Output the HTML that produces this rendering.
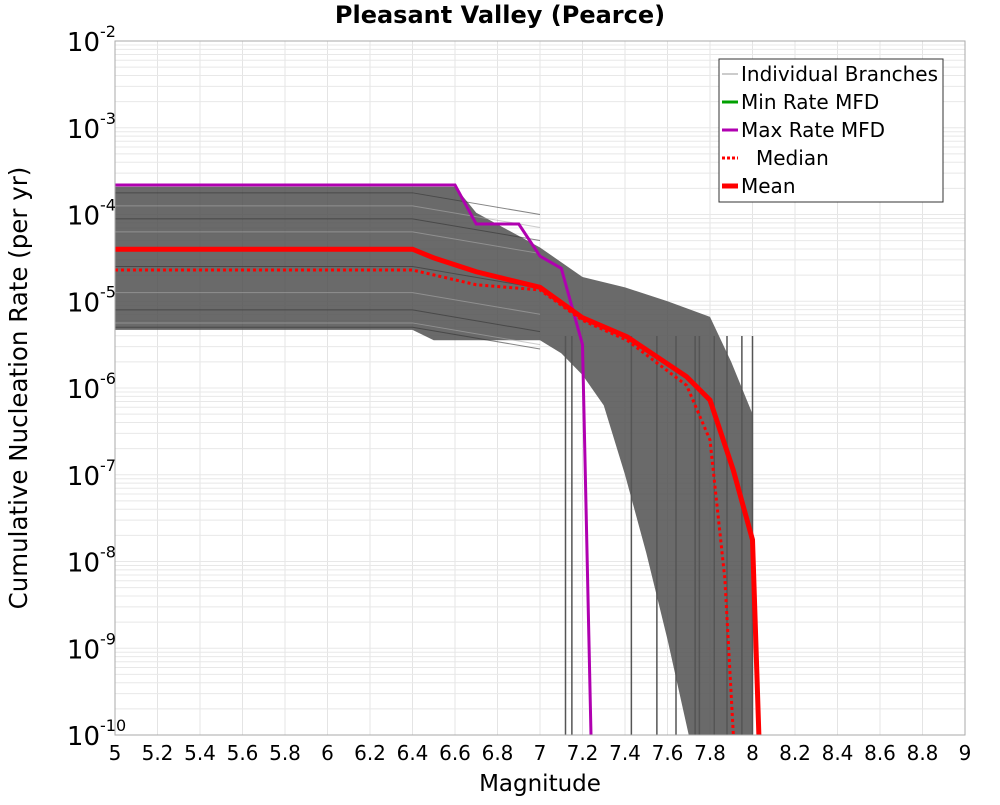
<!DOCTYPE html>
<html><head><meta charset="utf-8"><style>
body{margin:0;background:#fff;font-family:"Liberation Sans","DejaVu Sans",sans-serif}
</style></head><body>
<svg id="chart" width="1000" height="800" xmlns="http://www.w3.org/2000/svg" font-family="DejaVu Sans, Liberation Sans, sans-serif"></svg>
<script>
const xTicks=[5,5.2,5.4,5.6,5.8,6,6.2,6.4,6.6,6.8,7,7.2,7.4,7.6,7.8,8,8.2,8.4,8.6,8.8,9];
const yDecades=[-2,-3,-4,-5,-6,-7,-8,-9,-10];
const meanM=[5,6.4,6.5,6.7,7.0,7.2,7.41,7.69,7.8,7.91,8.0,8.03];
const meanLog=[-4.40,-4.40,-4.50,-4.66,-4.84,-5.19,-5.41,-5.87,-6.14,-6.95,-7.75,-10];
const medM=[5,6.4,6.7,7.0,7.2,7.41,7.69,7.8,7.87,7.91];
const medLog=[-4.64,-4.64,-4.81,-4.87,-5.22,-5.45,-5.97,-6.6,-8.2,-10];
const maxM=[5,6.6,6.7,6.9,7.0,7.1,7.2,7.24];
const maxLog=[-3.66,-3.66,-4.11,-4.11,-4.48,-4.62,-5.5,-10];
const bandUpM=[5,6.6,6.7,7.0,7.2,7.4,7.6,7.8,7.9,8.0,8.0];
const bandUpLog=[-3.68,-3.68,-3.98,-4.38,-4.72,-4.84,-5.0,-5.18,-5.7,-6.3,-10];
const bandLoM=[7.9,7.8,7.7,7.6,7.5,7.4,7.3,7.2,7.1,7.0,6.5,6.4,5];
const bandLoLog=[-10,-10,-10,-8.9,-7.9,-7.0,-6.2,-5.85,-5.6,-5.45,-5.45,-5.33,-5.33];
const branchDrops=[7.12,7.15,7.43,7.55,7.64,7.73,7.75,7.82,7.88,7.95,8.0];
const branchLevels=[-3.75,-3.9,-4.05,-4.2,-4.6,-4.9,-5.1,-5.25,-5.3];
const X0=115,X1=965,Y0=41,Y1=735;
const x=m=>X0+(m-5)/4*(X1-X0);
const y=l=>Y0+(-2-l)/8*(Y1-Y0);
const svg=document.getElementById('chart');
const NS='http://www.w3.org/2000/svg';
function mk(t,a,p){const e=document.createElementNS(NS,t);for(const k in a)e.setAttribute(k,a[k]);(p||svg).appendChild(e);return e;}
const grid=mk('g',{});


xTicks.forEach(t=>mk('line',{x1:x(t),x2:x(t),y1:Y0,y2:Y1,stroke:'#e4e4e4','stroke-width':1},grid));
for(let d=-10;d<-2;d++)for(let k=1;k<10;k++){const l=d+Math.log10(k);mk('line',{x1:X0,x2:X1,y1:y(l),y2:y(l),stroke:'#e8e8e8','stroke-width':1},grid);}
const clip=mk('clipPath',{id:'pc'});mk('rect',{x:X0,y:Y0,width:X1-X0,height:Y1-Y0},clip);
const plot=mk('g',{'clip-path':'url(#pc)'});


const pts=(ms,ls)=>ms.map((m,i)=>x(m)+','+y(ls[i])).join(' ');
const band=mk('polygon',{points:pts(bandUpM,bandUpLog)+' '+pts(bandLoM,bandLoLog),fill:'#505050','fill-opacity':0.85},plot);


branchLevels.forEach((lv,i)=>{const l=mk('polyline',{points:pts([5,6.4,7.0],[lv,lv,lv-0.25]),fill:'none',stroke:i%2?'#aaa':'#333','stroke-width':1,'stroke-opacity':0.6},plot);

});
branchDrops.forEach(d=>{const l=mk('line',{x1:x(d),x2:x(d),y1:y(-5.4),y2:Y1,stroke:'#555','stroke-width':1.5},plot);

});
const mx=mk('polyline',{points:pts(maxM,maxLog),fill:'none',stroke:'#b000b0','stroke-width':3},plot);


const md=mk('polyline',{points:pts(medM,medLog),fill:'none',stroke:'#f00','stroke-width':3,'stroke-dasharray':'3,3'},plot);


const mn=mk('polyline',{points:pts(meanM,meanLog),fill:'none',stroke:'#f00','stroke-width':5},plot);


const fr=mk('rect',{x:X0,y:Y0,width:X1-X0,height:Y1-Y0,fill:'none',stroke:'#aaa'});


xTicks.forEach(t=>{const e=mk('text',{x:x(t),y:760,'font-size':20,'text-anchor':'middle',fill:'#000'});e.textContent=String(t);

});
yDecades.forEach(d=>{const e=mk('text',{x:100,y:y(d)+10,'font-size':26,'text-anchor':'end',fill:'#000'});e.textContent='10';


const s=mk('text',{x:100,y:y(d)-4,'font-size':16,'text-anchor':'start',fill:'#000'});s.textContent=String(d);

});
const tt=mk('text',{x:500,y:23,'font-size':24,'font-weight':'bold','text-anchor':'middle'});tt.textContent='Pleasant Valley (Pearce)';


const xt=mk('text',{x:540,y:791,'font-size':23,'text-anchor':'middle'});xt.textContent='Magnitude';


const yt=mk('text',{x:0,y:0,'font-size':24.5,'text-anchor':'middle',transform:'translate(27,388) rotate(-90)'});yt.textContent='Cumulative Nucleation Rate (per yr)';


const lg=mk('g',{});


mk('rect',{x:719,y:59,width:224,height:143,fill:'#fff',stroke:'#333'},lg);
const entries=[['Individual Branches','#999',1,''],['Min Rate MFD','#00a000',3,''],['Max Rate MFD','#b000b0',3,''],['Median','#f00',3,'3,2'],['Mean','#f00',5,'']];
entries.forEach((en,i)=>{const cy=74+i*28;
mk('line',{x1:722,x2:738,y1:cy,y2:cy,stroke:en[1],'stroke-width':en[2],'stroke-dasharray':en[3]},lg);
const t=mk('text',{x:i==3?756:741,y:cy+7,'font-size':20},lg);t.textContent=en[0];

});
</script>
</body></html>
